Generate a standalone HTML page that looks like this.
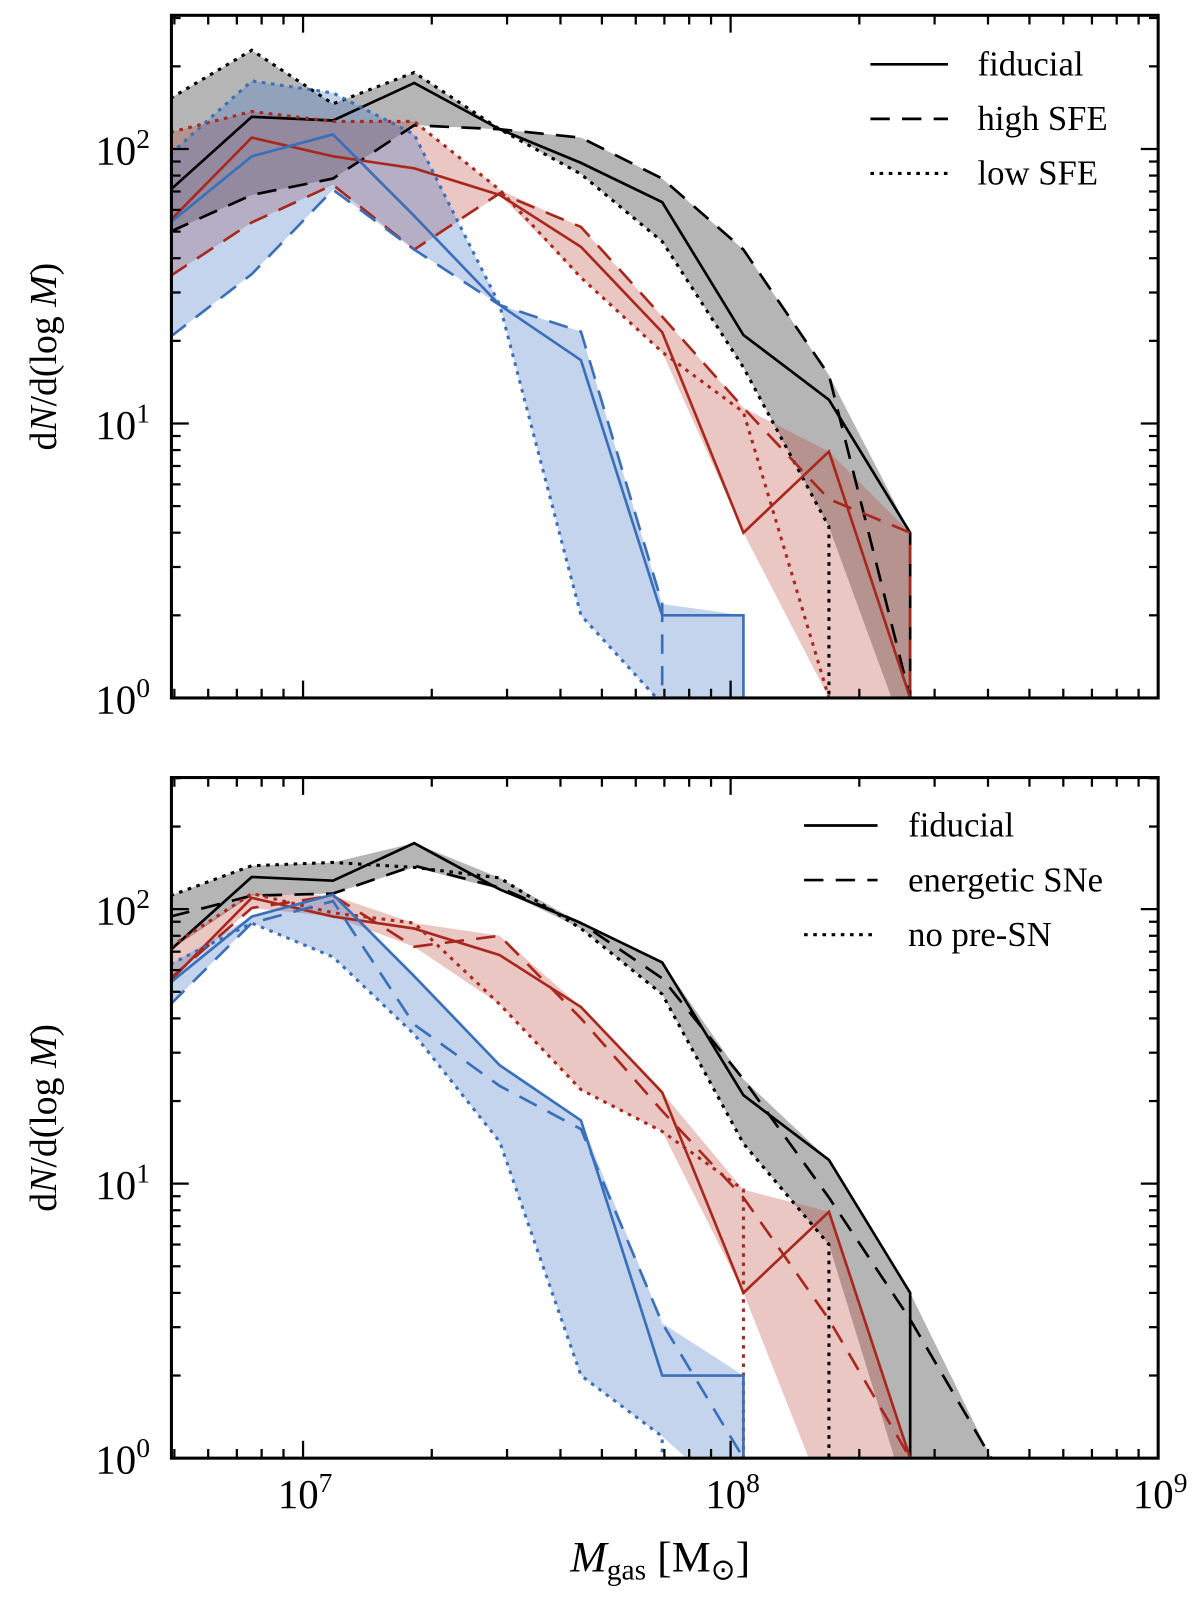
<!DOCTYPE html>
<html><head><meta charset="utf-8"><style>
body{margin:0;background:#fff}
svg text{font-family:"Liberation Serif",serif;fill:#000}
</style></head><body>
<svg id="chart" width="1200" height="1597" viewBox="0 0 1200 1597" xmlns="http://www.w3.org/2000/svg"><g id="root" transform="scale(1.0204)"></g></svg>
<script>
// ---- data ----
const binLogM = [6.69, 6.88, 7.07, 7.26, 7.46, 7.65, 7.84, 8.03, 8.23, 8.42, 8.61];
// top panel
const topFidBlack  = [71,131,127,174,118,89,64,21,12.2,4,0];
const topHighBlack = [50,68,78,122,118,110,78,43,15,1,0];
const topLowBlack  = [153,229,146,190,118,81,46,16,4.2,0,0];
const topFidBlue   = [54,94,113,57,27,17,2,2,0,0,0];
const topHighBlue  = [20.7,35,71,43,27,21.6,2.2,0,0,0,0];
const topLowBlue   = [96,177,160,113,27,2,0.95,0,0,0,0];
const topFidRed    = [55,110,94,85,68,44,21.5,4,7.9,1,0];
const topHighRed   = [34.5,54,74,43,69,52,24.5,11.4,5.3,4,0];
const topLowRed    = [115,137,126,126,71,34,18.2,11,1,0,0];
// bottom panel
const botFidBlack  = topFidBlack;
const botEnBlack   = [94,112,114,144,120,89,56,24,8.9,3.2,1];
const botNoBlack   = [112,144,148,142,130,85,49,14,6,0,0];
const botFidBlue   = topFidBlue;
const botEnBlue    = [45,89,107,38,22.7,15.8,3.1,1,0,0,0];
const botNoBlue    = [63,89,67,35,14.2,2,1.2,0,0,0,0];
const botFidRed    = topFidRed;
const botEnRed     = [56,101,112,73,80,40,18.4,8.9,3.2,1,0];
const botNoRed     = [73,114,97,89,45,22,15.5,9.5,0,0,0];
const xTickLabels = ["7","8","9"];
const yTickLabels = ["0","1","2"];

// ---- axes ----
const NS="http://www.w3.org/2000/svg";
const svg=document.getElementById('root');
const X0=168,X1=1135;
const xScale=l=>297+(l-7)*419;
const DEC=269;
const panels=[{top:15,bottom:684,name:'top'},{top:762,bottom:1429,name:'bottom'}];
function mk(tag,attrs,parent){const e=document.createElementNS(NS,tag);for(const k in attrs)e.setAttribute(k,attrs[k]);(parent||svg).appendChild(e);return e;}

function drawPanel(p,series,legend,showX){
  const yScale=v=>p.bottom-Math.log10(v)*DEC;
  const g=mk('g',{});
  
  
  const cid='clip'+p.name;
  const cp=mk('clipPath',{id:cid},g);mk('rect',{x:X0,y:p.top,width:X1-X0,height:p.bottom-p.top},cp);
  const pg=mk('g',{'clip-path':'url(#'+cid+')'},g);
  const py=v=>v>0?yScale(v):p.bottom+50;
  series.forEach(s=>{
    const up=[],lo=[];
    binLogM.forEach((l,i)=>{const vs=s.lines.map(a=>a[i]);const mx=Math.max(...vs),mn=Math.min(...vs);
      if(mx<=0)return;up.push([xScale(l),py(mx)]);lo.push([xScale(l),py(mn)]);});
    const pts=up.concat(lo.reverse()).map(q=>q.join(',')).join(' ');
    const f=mk('polygon',{points:pts,fill:s.fill,stroke:'none'},pg);
    
    
  });
  const dashes=['','19,12','3.5,5.5'];
  series.forEach(s=>{
    s.lines.forEach((arr,j)=>{
      let d='';let started=false;
      for(let i=0;i<arr.length;i++){
        const x=xScale(binLogM[i]);
        if(arr[i]>0){d+=(started?'L':'M')+x+','+yScale(arr[i]);started=true;}
        else{ if(started){const px=xScale(binLogM[i-1]);d+='L'+px+','+(p.bottom+50);} break;}
      }
      const e=mk('path',{d:d,fill:'none',stroke:s.color,'stroke-width':j==2?3:2.6,'stroke-dasharray':dashes[j]},pg);
      
      
    });
  });
  const fr=mk('rect',{x:X0,y:p.top,width:X1-X0,height:p.bottom-p.top,fill:'none',stroke:'#000','stroke-width':3},g);
  
  
  for(let dec=6;dec<=8;dec++)for(let m=1;m<=9;m++){
    const l=dec+Math.log10(m);const x=xScale(l);if(x<X0||x>X1)continue;
    const len=m==1?17:9;
    mk('line',{x1:x,x2:x,y1:p.bottom,y2:p.bottom-len,stroke:'#000','stroke-width':2.2},g);
    mk('line',{x1:x,x2:x,y1:p.top,y2:p.top+len,stroke:'#000','stroke-width':2.2},g);
  }
  if(showX){
    xTickLabels.forEach(t=>{const x=xScale(+t);
      const tx=mk('text',{x:x+2,y:p.bottom+49,'font-size':40,'text-anchor':'middle'},g);
      
      
      tx.innerHTML='10<tspan dy="-16" font-size="27">'+t+'</tspan>';});
  }
  for(let dec=0;dec<=2;dec++)for(let m=1;m<=9;m++){
    const v=m*Math.pow(10,dec);const y=yScale(v);if(y<p.top)continue;
    const len=m==1?17:9;
    mk('line',{x1:X0,x2:X0+len,y1:y,y2:y,stroke:'#000','stroke-width':2.2},g);
    mk('line',{x1:X1,x2:X1-len,y1:y,y2:y,stroke:'#000','stroke-width':2.2},g);
  }
  yTickLabels.forEach(t=>{const y=yScale(Math.pow(10,+t));
    const tx=mk('text',{x:147,y:y+15,'font-size':40,'text-anchor':'end'},g);
    
    
    tx.innerHTML='10<tspan dy="-16" font-size="27">'+t+'</tspan>';});
  const cy=(p.top+p.bottom)/2;
  const yt=mk('text',{x:0,y:0,'font-size':37,'text-anchor':'middle',transform:'translate(55,'+cy+') rotate(-90)'},g);
  
  
  yt.innerHTML='d<tspan font-style="italic">N</tspan>/d(log <tspan font-style="italic">M</tspan>)';
  const lg=mk('g',{},g);
  
  
  const lx1=p.name=='top'?853:788,lx2=p.name=='top'?929:860,tx=p.name=='top'?958:890;
  const ly0=p.name=='top'?63:809;
  legend.forEach((t,j)=>{const y=ly0+j*53.5;
    const ln=mk('line',{x1:lx1,x2:lx2,y1:y,y2:y,stroke:'#000','stroke-width':j==2?3:2.6,'stroke-dasharray':dashes[j]},lg);
    
    
    const te=mk('text',{x:tx,y:y+11,'font-size':34},lg);
    
    
    te.textContent=t;});
}
const gray='rgba(90,90,90,0.45)',blueF='rgba(70,120,195,0.32)',redF='rgba(190,70,60,0.3)';
drawPanel(panels[0],[
  {name:'fiducial-set',color:'#000',fill:gray,lines:[topFidBlack,topHighBlack,topLowBlack]},
  {name:'red-set',color:'#A8281E',fill:redF,lines:[topFidRed,topHighRed,topLowRed]},
  {name:'blue-set',color:'#3A6FBA',fill:blueF,lines:[topFidBlue,topHighBlue,topLowBlue]}
],['fiducial','high SFE','low SFE'],false);
drawPanel(panels[1],[
  {name:'fiducial-set',color:'#000',fill:gray,lines:[botFidBlack,botEnBlack,botNoBlack]},
  {name:'red-set',color:'#A8281E',fill:redF,lines:[botFidRed,botEnRed,botNoRed]},
  {name:'blue-set',color:'#3A6FBA',fill:blueF,lines:[botFidBlue,botEnBlue,botNoBlue]}
],['fiducial','energetic SNe','no pre-SN'],true);
const xt=mk('text',{x:647,y:1540,'font-size':43,'text-anchor':'middle'});


xt.innerHTML='<tspan font-style="italic">M</tspan><tspan font-size="29" dy="8">gas</tspan><tspan dy="-8"> [M</tspan><tspan font-size="29" dy="8">⊙</tspan><tspan dy="-8">]</tspan>';
</script>
</body></html>
